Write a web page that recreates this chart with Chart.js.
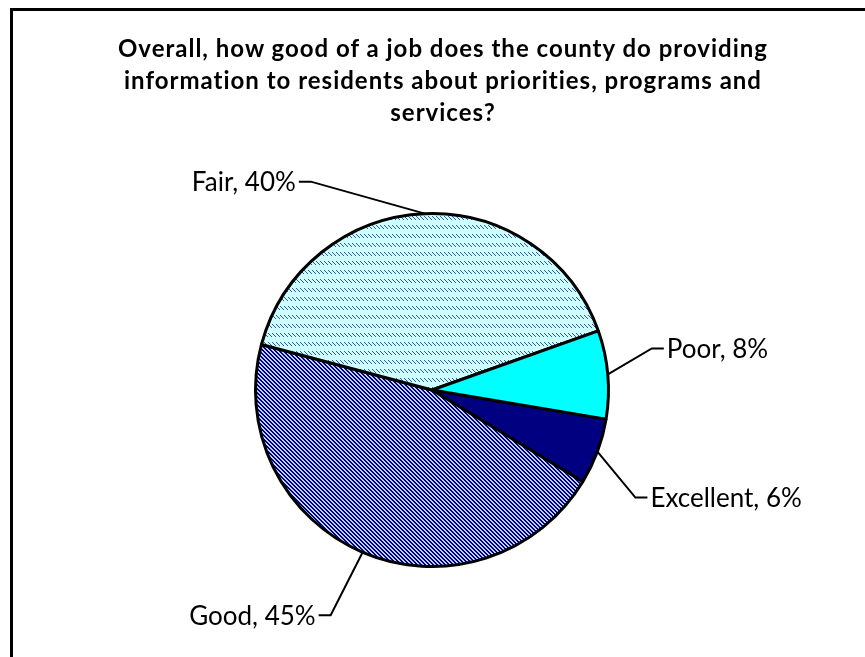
<!DOCTYPE html>
<html>
<head>
<meta charset="utf-8">
<script src="https://cdn.jsdelivr.net/npm/chart.js@4.4.0/dist/chart.umd.min.js"></script>
<style>
  html, body { margin: 0; padding: 0; background: #fff; overflow: hidden; }
  #contenedor { position: relative; width: 865px; height: 657px; }
  #marco { position: absolute; left: 10px; top: 8px; width: 900px; height: 700px; border-top: 3px solid #000; border-left: 3px solid #000; }
  #titulo { position: absolute; left: 0; top: 32px; width: 886px; text-align: center; font: bold 24px Lato, sans-serif; letter-spacing: 1px; line-height: 32px; color: #000; }
  #grafico { position: absolute; left: 0; top: 0; }
</style>
</head>
<body>
<div id="contenedor">
  <div id="marco"></div>
  <canvas id="grafico" width="865" height="657"></canvas>
  <div id="titulo">Overall, how good of a job does the county do providing<br>information to residents about priorities, programs and<br>services?</div>
</div>
<script>
const categorias = ["Excellent", "Good", "Fair", "Poor"];
const porcentajes = [6, 45, 40, 8];

// desplazamiento del codo y lado del texto para cada etiqueta
const guias = [
  { dx: 38, dy: 46, lado: 1 },
  { dx: -32, dy: 63, lado: -1 },
  { dx: -114, dy: -32, lado: -1 },
  { dx: 44, dy: -26, lado: 1 }
];

function crearPatron(ancho, alto, dibujar) {
  const lienzo = document.createElement("canvas");
  lienzo.width = ancho;
  lienzo.height = alto;
  dibujar(lienzo.getContext("2d"));
  return document.getElementById("grafico").getContext("2d").createPattern(lienzo, "repeat");
}

const patronBueno = crearPatron(4, 4, (c) => {
  c.fillStyle = "#bccfff";
  c.fillRect(0, 0, 4, 4);
  c.fillStyle = "#000080";
  for (let y = 0; y < 4; y++) {
    c.fillRect(y % 4, y, 1, 1);
    c.fillRect((y + 1) % 4, y, 1, 1);
  }
});

const patronRegular = crearPatron(4, 9, (c) => {
  c.fillStyle = "#ccffff";
  c.fillRect(0, 0, 4, 9);
  c.fillStyle = "#4050b0";
  for (let i = 0; i < 4; i++) {
    c.fillRect(i, i, 1, 1);
  }
});

const etiquetasGuia = {
  id: "etiquetasGuia",
  afterDatasetsDraw(chart) {
    const ctx = chart.ctx;
    const arcos = chart.getDatasetMeta(0).data;
    ctx.save();
    ctx.strokeStyle = "#000";
    ctx.lineWidth = 2;
    ctx.fillStyle = "#000";
    ctx.font = "26px Lato, sans-serif";
    ctx.textBaseline = "middle";
    arcos.forEach((arco, i) => {
      const medio = (arco.startAngle + arco.endAngle) / 2;
      const ax = arco.x + Math.cos(medio) * arco.outerRadius;
      const ay = arco.y + Math.sin(medio) * arco.outerRadius;
      const g = guias[i];
      const cx = ax + g.dx;
      const cy = ay + g.dy;
      const fx = cx + g.lado * 12;
      ctx.beginPath();
      ctx.moveTo(ax, ay);
      ctx.lineTo(cx, cy);
      ctx.lineTo(fx, cy);
      ctx.stroke();
      ctx.textAlign = g.lado > 0 ? "left" : "right";
      ctx.fillText(`${categorias[i]}, ${porcentajes[i]}%`, fx + g.lado * 3, cy + 1);
    });
    ctx.restore();
  }
};

new Chart(document.getElementById("grafico"), {
  type: "pie",
  data: {
    labels: categorias,
    datasets: [{
      data: porcentajes,
      backgroundColor: ["#000080", patronBueno, patronRegular, "#00ffff"],
      borderColor: "#000",
      borderWidth: 3
    }]
  },
  options: {
    responsive: false,
    animation: false,
    rotation: 99.5,
    layout: { padding: { top: 212, bottom: 89, left: 254, right: 255 } },
    plugins: {
      legend: { display: false },
      tooltip: { enabled: false }
    }
  },
  plugins: [etiquetasGuia]
});
</script>
</body>
</html>
